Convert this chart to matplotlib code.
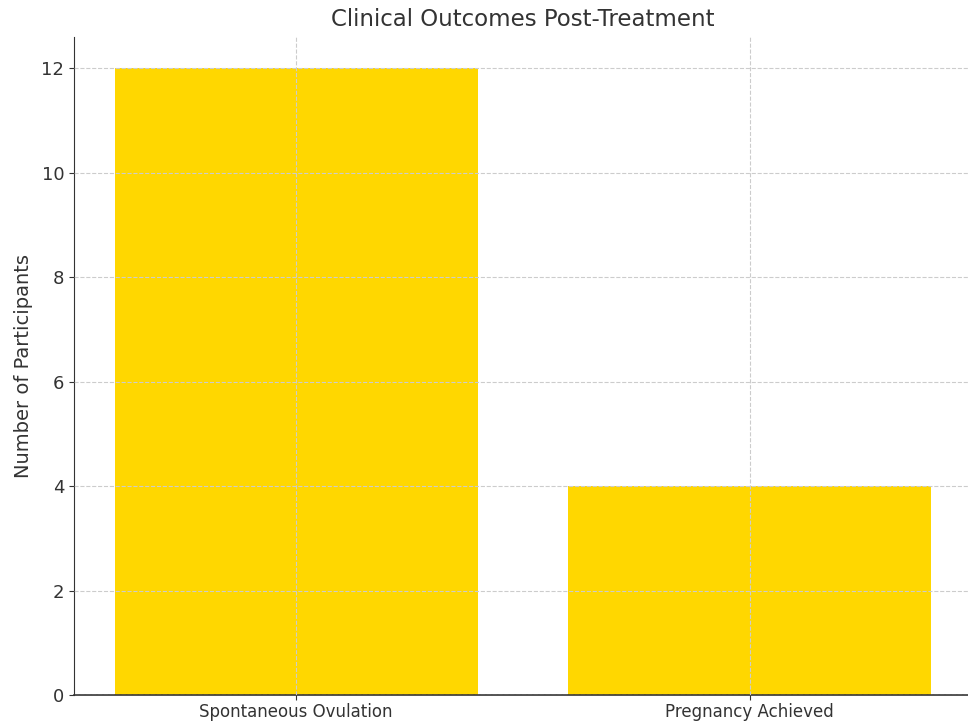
import matplotlib.pyplot as plt

# data
outcomes = ['Spontaneous Ovulation', 'Pregnancy Achieved']
participants = [12, 4]
bar_color = '#FFD700'

fig = plt.figure(figsize=(9.68, 7.27), dpi=100)
ax = fig.add_axes([74 / 968, 32 / 727, 898 / 968, 658 / 727])

ax.bar(outcomes, participants, color=bar_color, width=0.8)

ax.set_axisbelow(False)
ax.grid(True, linestyle='--', color='#cccccc', linewidth=0.8)

ax.set_title('Clinical Outcomes Post-Treatment', fontsize=16.5, color='#333333', pad=8)
ax.set_ylabel('Number of Participants', fontsize=14, color='#333333', labelpad=6)
ax.tick_params(axis='y', labelsize=13, colors='#333333')
ax.tick_params(axis='x', labelsize=12, colors='#333333', pad=2)
ax.spines['top'].set_visible(False)
ax.spines['right'].set_visible(False)
ax.spines['left'].set_color('#333333')
ax.spines['bottom'].set_color('#333333')
ax.spines['bottom'].set_linewidth(1.2)

fig.savefig('out.png', dpi=100)
